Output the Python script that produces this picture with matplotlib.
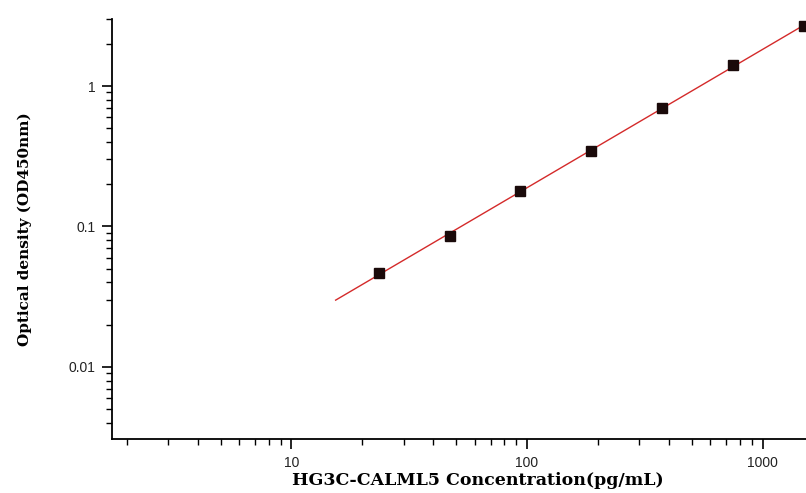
import numpy as np
import matplotlib
matplotlib.use("Agg")
import matplotlib.pyplot as plt
from matplotlib.ticker import LogLocator, FixedLocator, FixedFormatter, NullFormatter

plt.rcParams["font.family"] = ["Liberation Sans", "DejaVu Sans"]

# standard curve points
conc = [23.44, 46.88, 93.75, 187.5, 375, 750, 1500]
od = [0.0467, 0.0855, 0.179, 0.344, 0.70, 1.41, 2.67]

x_ticks = [10, 100, 1000]
x_labels = ["10", "100", "1000"]
y_ticks = [0.01, 0.1, 1]
y_labels = ["0.01", "0.1", "1"]

fig = plt.figure(figsize=(8.06, 4.93), dpi=100)
ax = fig.add_axes([0.139, 0.1095, 0.861, 0.852])

# log-log linear fit of the standards
k, b = np.polyfit(np.log10(conc), np.log10(od), 1)
xf = np.logspace(np.log10(15.4), np.log10(1700), 200)
ax.plot(xf, 10 ** (k * np.log10(xf) + b), color="#d42a2a", lw=1.0, zorder=2)
ax.plot(conc, od, ls="none", marker="s", ms=6.5, color="#1a0a0a", zorder=3)

ax.set_xscale("log")
ax.set_yscale("log")
ax.set_xlim(1.73, 1530)
ax.set_ylim(0.00307, 3.0)

ax.xaxis.set_major_locator(FixedLocator(x_ticks))
ax.xaxis.set_major_formatter(FixedFormatter(x_labels))
ax.yaxis.set_major_locator(FixedLocator(y_ticks))
ax.yaxis.set_major_formatter(FixedFormatter(y_labels))
ax.xaxis.set_minor_locator(LogLocator(base=10, subs=np.arange(2, 10)))
ax.yaxis.set_minor_locator(LogLocator(base=10, subs=np.arange(2, 10)))
ax.xaxis.set_minor_formatter(NullFormatter())
ax.yaxis.set_minor_formatter(NullFormatter())

for s in ["top", "right"]:
    ax.spines[s].set_visible(False)
for s in ["left", "bottom"]:
    ax.spines[s].set_linewidth(1.3)

ax.tick_params(which="major", direction="out", length=7, width=1.2,
               labelsize=10, labelcolor="#222222", pad=5)
ax.tick_params(which="minor", direction="out", length=4, width=1.0)

ax.set_xlabel("HG3C-CALML5 Concentration(pg/mL)", family="DejaVu Serif",
              fontweight="bold", fontsize=12.5)
ax.set_ylabel("Optical density (OD450nm)", family="DejaVu Serif",
              fontweight="bold", fontsize=11)
ax.xaxis.set_label_coords(0.527, -0.079)
ax.yaxis.set_label_coords(-0.115, 0.5)

fig.savefig("out.png", dpi=100)
